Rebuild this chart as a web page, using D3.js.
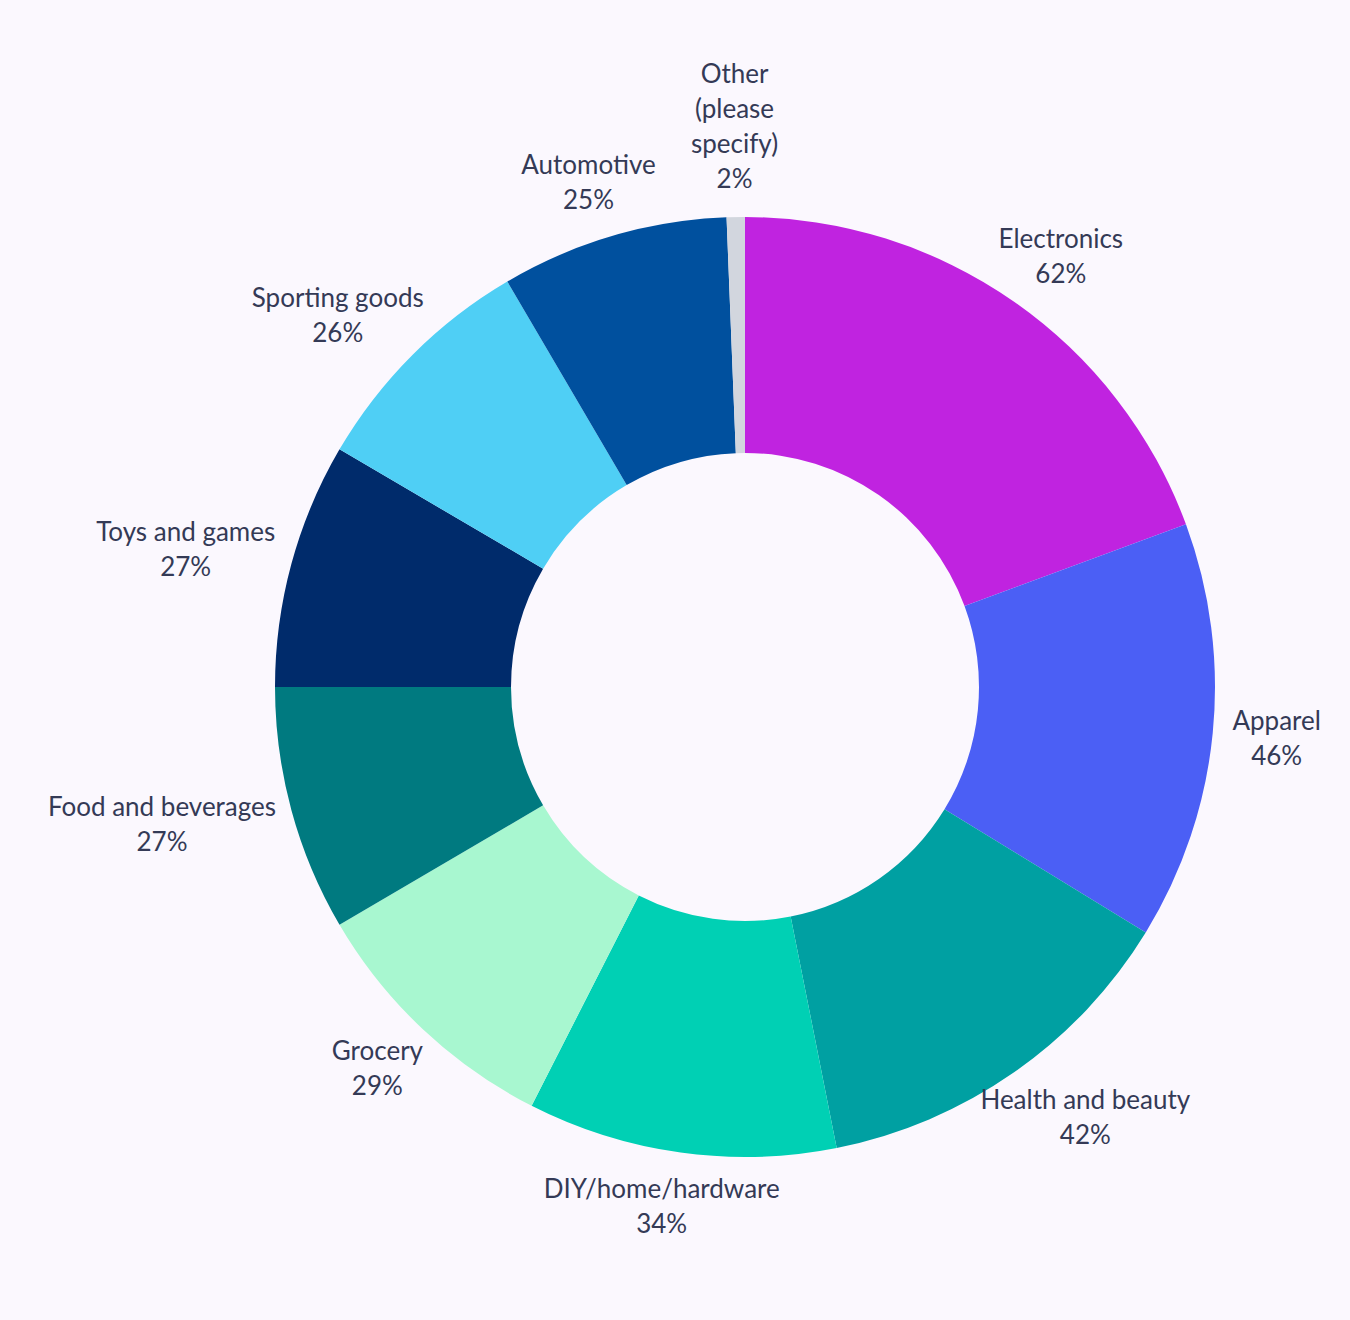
<!DOCTYPE html>
<html><head><meta charset="utf-8">
<script src="https://cdn.jsdelivr.net/npm/d3@7.9.0/dist/d3.min.js"></script>
<style>body{margin:0;background:#fbf8fe;}</style>
</head><body><svg id="chart"></svg>
<script>
const width = 1350, height = 1320;
const cx = 745, cy = 687;

const labels = [["Electronics"], ["Apparel"], ["Health and beauty"], ["DIY/home/hardware"], ["Grocery"],
  ["Food and beverages"], ["Toys and games"], ["Sporting goods"], ["Automotive"], ["Other", "(please", "specify)"]];
const values = [62, 46, 42, 34, 29, 27, 27, 26, 25, 2];
const colors = ["#c023e0", "#4b5ff5", "#00a0a2", "#00d0b4", "#a8f7d0", "#007a80", "#002b6b", "#4fcff5", "#00509e", "#d2d6de"];

const data = values.map((v, i) => ({ lines: labels[i], value: v, color: colors[i] }));

const svg = d3.select("#chart").attr("width", width).attr("height", height);
const g = svg.append("g").attr("transform", `translate(${cx},${cy})`);

const pie = d3.pie().sort(null).value(d => d.value);
const arc = d3.arc().innerRadius(234).outerRadius(470);
const arcs = pie(data);

g.selectAll("path").data(arcs).join("path")
  .attr("d", arc).attr("fill", d => d.data.color);

// labels pushed outward by their own size
const lh = 35;
arcs.forEach(a => {
  const mid = (a.startAngle + a.endAngle) / 2;
  const s = Math.sin(mid), c = Math.cos(mid);
  const lines = [...a.data.lines, a.data.value + "%"];
  const t = g.append("text")
    .attr("text-anchor", "middle")
    .attr("font-family", "Lato, 'Open Sans', sans-serif")
    .attr("font-size", 26).attr("fill", "#343a56");
  lines.forEach((l, i) => t.append("tspan").attr("x", 0).attr("dy", i ? lh : 0).text(l));
  const b = t.node().getBBox();
  const hw = b.width / 2, hh = lines.length * lh / 2;
  const x = 490 * s + hw * s;
  const y = -(490 * c + hh * c);
  t.attr("transform", `translate(${x},${y - hh + lh * 0.75})`);
});
</script></body></html>
